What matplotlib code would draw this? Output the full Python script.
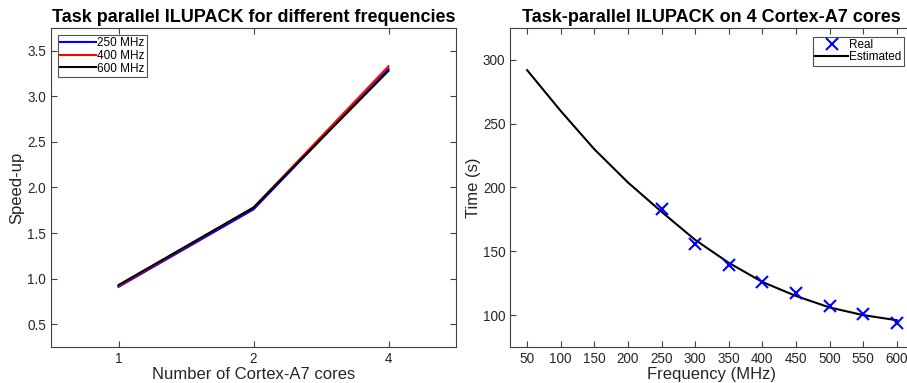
import matplotlib
matplotlib.use("Agg")
import matplotlib.pyplot as plt

plt.rcParams['font.family'] = ['Liberation Sans', 'DejaVu Sans']

# Left chart data
core_labels = ['1', '2', '4']
speedup_250 = [0.91, 1.76, 3.30]
speedup_400 = [0.92, 1.78, 3.33]
speedup_600 = [0.93, 1.78, 3.28]

# Right chart data
freq_real = [250, 300, 350, 400, 450, 500, 550, 600]
time_real = [183, 156, 139, 126, 117, 107, 101, 94]
freq_est = [50, 100, 150, 200, 250, 300, 350, 400, 450, 500, 550, 600]
time_est = [292, 260, 230, 204, 181, 159, 141, 126, 115, 106, 100, 96]

W, H = 907, 383
fig = plt.figure(figsize=(W / 100, H / 100), dpi=100)

axcol = '#404040'
txtcol = '#262626'

def style(ax):
    for s in ax.spines.values():
        s.set_color(axcol)
        s.set_linewidth(0.8)
    ax.tick_params(direction='in', length=4, width=0.8, color=axcol,
                   labelcolor=txtcol, labelsize=9.75, top=True, right=True)

ax1 = fig.add_axes([51 / W, 1 - 347 / H, (456 - 51) / W, (347 - 28) / H])
pos = [1, 2, 3]
ax1.plot(pos, speedup_250, color='#0000ff', lw=1.5, label='250 MHz')
ax1.plot(pos, speedup_400, color='#ff0000', lw=1.5, label='400 MHz')
ax1.plot(pos, speedup_600, color='#000000', lw=1.5, label='600 MHz')
ax1.set_xlim(0.5, 3.5)
ax1.set_ylim(0.25, 3.75)
ax1.set_xticks(pos)
ax1.set_xticklabels(core_labels)
ax1.set_yticks([0.5, 1.0, 1.5, 2.0, 2.5, 3.0, 3.5])
ax1.set_yticklabels(['0.5', '1.0', '1.5', '2.0', '2.5', '3.0', '3.5'])
style(ax1)
ax1.set_xlabel('Number of Cortex-A7 cores', fontsize=12, color=txtcol, labelpad=1)
ax1.set_ylabel('Speed-up', fontsize=12, color=txtcol, labelpad=2)
ax1.set_title('Task parallel ILUPACK for different frequencies', fontsize=13,
              fontweight='bold', pad=4)
leg1 = ax1.legend(loc='upper left', fontsize=8.5, frameon=True, fancybox=False,
                  handlelength=3.0, handletextpad=0.1, borderpad=0.2,
                  labelspacing=0.05, borderaxespad=0.6)
leg1.get_frame().set_edgecolor('#262626')
leg1.get_frame().set_linewidth(0.8)

ax2 = fig.add_axes([510.3 / W, 1 - 347 / H, (913.5 - 510.3) / W, (347 - 28) / H])
ax2.plot(freq_est, time_est, color='black', lw=1.5, label='Estimated', zorder=2)
ax2.plot(freq_real, time_real, linestyle='none', marker='x', color='#0000ff',
         markersize=8, markeredgewidth=1.5, label='Real', zorder=3)
ax2.set_xlim(25, 625)
ax2.set_ylim(75, 325)
ax2.set_xticks(list(range(50, 601, 50)))
ax2.set_yticks([100, 150, 200, 250, 300])
style(ax2)
ax2.set_xlabel('Frequency (MHz)', fontsize=12, color=txtcol, labelpad=1)
ax2.set_ylabel('Time (s)', fontsize=12, color=txtcol, labelpad=1)
ax2.set_title('Task-parallel ILUPACK on 4 Cortex-A7 cores', fontsize=13,
              fontweight='bold', pad=4, x=(711 - 510.3) / (913.5 - 510.3))
h, l = ax2.get_legend_handles_labels()
leg2 = ax2.legend([h[1], h[0]], [l[1], l[0]], loc='upper right', fontsize=8.5,
                  frameon=True, fancybox=False, handlelength=2.8,
                  handletextpad=0.1, borderpad=0.2, labelspacing=0.0,
                  bbox_to_anchor=((904 - 510.3) / (913.5 - 510.3), (347 - 37) / (347 - 28)),
                  borderaxespad=0)
leg2.get_frame().set_edgecolor('#262626')
leg2.get_frame().set_linewidth(0.8)

fig.savefig('out.png', dpi=100)
